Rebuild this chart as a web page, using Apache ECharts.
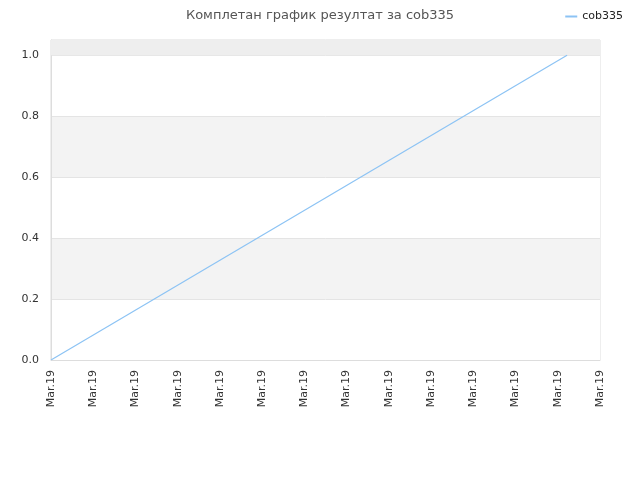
<!DOCTYPE html>
<html lang="sr">
<head>
    <meta charset="UTF-8">
    <script src="https://cdn.jsdelivr.net/npm/echarts@6/dist/echarts.min.js"></script>
    <title>cob335</title>
    <style>
        html, body { margin: 0; padding: 0; background: #fff; }
    </style>
</head>
<body>
<div id="main" style="width: 640px;height:480px;"></div>
<script type="text/javascript">
    // data
    var seriesName = 'cob335';
    var xPoints = [0, 12.22];      // position on time axis, in tick steps
    var yPoints = [0, 1.0];
    var tickLabels = ['Mar.19', 'Mar.19', 'Mar.19', 'Mar.19', 'Mar.19', 'Mar.19', 'Mar.19',
        'Mar.19', 'Mar.19', 'Mar.19', 'Mar.19', 'Mar.19', 'Mar.19', 'Mar.19'];

    var myChart = echarts.init(document.getElementById('main'));

    var pts = xPoints.map(function (x, i) { return [x, yPoints[i]]; });

    var option = {
        animation: false,
        textStyle: { fontFamily: 'DejaVu Sans' },
        title: {
            text: 'Комплетан график резултат за cob335',
            left: 'center',
            top: 4,
            textStyle: { fontSize: 13, fontWeight: 'normal', color: '#555' }
        },
        legend: {
            data: [seriesName],
            right: 12,
            top: 6,
            itemWidth: 12,
            itemHeight: 2,
            icon: 'rect',
            textStyle: { fontSize: 11, color: '#222' }
        },
        grid: { left: 51, right: 40, top: 40, bottom: 120, show: true, borderColor: '#dddddd', borderWidth: 1 },
        xAxis: {
            type: 'value',
            min: 0,
            max: tickLabels.length - 1,
            interval: 1,
            axisLine: { show: true, lineStyle: { color: '#ddd' } },
            axisTick: { show: false },
            splitLine: { show: false },
            axisLabel: {
                rotate: 90,
                fontSize: 11,
                color: '#333',
                margin: 10,
                formatter: function (v) { return tickLabels[v] || ''; }
            }
        },
        yAxis: {
            type: 'value',
            min: 0,
            max: 1.05,
            interval: 0.2,
            axisLine: { show: true, lineStyle: { color: '#ddd' } },
            axisTick: { show: false },
            axisLabel: {
                fontSize: 11,
                color: '#333',
                margin: 12,
                showMaxLabel: false,
                formatter: function (v) { return v.toFixed(1); }
            },
            splitLine: { show: true, lineStyle: { color: '#e4e4e4' } },
            splitArea: { show: true, areaStyle: { color: ['#ffffff', '#f3f3f3'] } }
        },
        series: [{
            name: seriesName,
            type: 'line',
            data: pts,
            showSymbol: false,
            lineStyle: { color: '#8cc3f4', width: 1.2 },
            itemStyle: { color: '#8cc3f4' },
            markArea: {
                silent: true,
                itemStyle: { color: '#eeeeee' },
                data: [[{ yAxis: 1.0 }, { yAxis: 1.05 }]]
            },
            z: 3
        }]
    };

    myChart.setOption(option);
</script>
</body>
</html>
